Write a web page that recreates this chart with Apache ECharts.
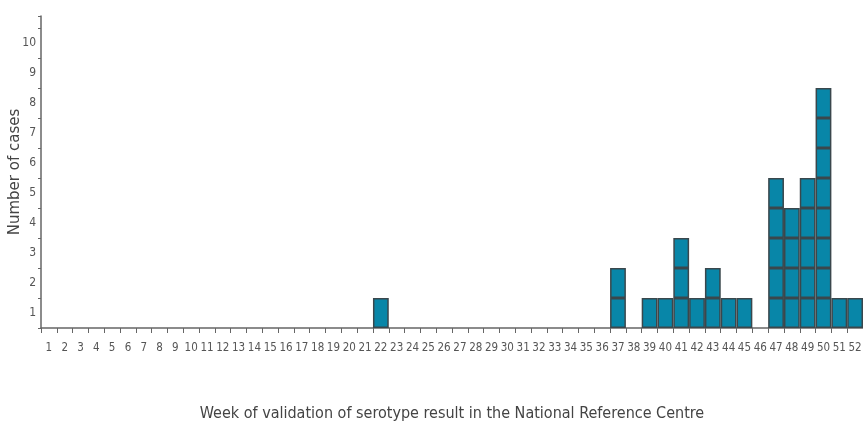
<!DOCTYPE html>
<html>
<head>
<meta charset="utf-8">
<script src="https://cdn.jsdelivr.net/npm/echarts@6/dist/echarts.min.js"></script>
<style>html,body{margin:0;padding:0;background:#fff}#c{width:863px;height:429px}</style>
</head>
<body>
<div id="c"></div>
<script>
const weeks = Array.from({length: 52}, (_, i) => String(i + 1));
const cases = [0,0,0,0,0,0,0,0,0,0, 0,0,0,0,0,0,0,0,0,0, 0,1,0,0,0,0,0,0,0,0, 0,0,0,0,0,0,2,0,1,1, 3,1,2,1,1,0,5,4,5,8, 1,1];
const yLabels = ['1','2','3','4','5','6','7','8','9','10'];

const maxCount = Math.max(...cases);
const series = [];
for (let k = 1; k <= maxCount; k++) {
  series.push({
    type: 'bar',
    stack: 'cases',
    barCategoryGap: 0,
    data: cases.map(c => c >= k ? 1 : '-'),
    itemStyle: { color: '#0886a8', borderColor: '#3a474c', borderWidth: 1.5 },
    emphasis: { disabled: true },
    animation: false
  });
}

const chart = echarts.init(document.getElementById('c'), null, {renderer: 'canvas'});
chart.setOption({
  animation: false,
  grid: { left: 41, right: 0, top: 16, bottom: 101, containLabel: false, outerBoundsMode: 'none' },
  xAxis: {
    type: 'category',
    data: weeks,
    boundaryGap: true,
    name: 'Week of validation of serotype result in the National Reference Centre',
    nameLocation: 'middle',
    nameGap: 78,
    nameMoveOverlap: false,
    nameTextStyle: { fontFamily: 'DejaVu Sans Condensed, sans-serif', fontSize: 16, color: '#444' },
    axisLine: { lineStyle: { color: '#666', width: 1.5 } },
    axisTick: { show: true, alignWithLabel: false, length: 5, lineStyle: { color: '#666' } },
    axisLabel: { interval: 0, fontFamily: 'DejaVu Sans Condensed, sans-serif', fontSize: 11.5, color: '#555', margin: 14 }
  },
  yAxis: {
    type: 'value',
    min: 0,
    max: 10.4,
    interval: 1,
    name: 'Number of cases',
    nameLocation: 'middle',
    nameGap: 18,
    nameMoveOverlap: false,
    nameRotate: 90,
    nameTextStyle: { fontFamily: 'DejaVu Sans, Verdana, sans-serif', fontSize: 15, color: '#444', align: 'center' },
    splitLine: { show: false },
    axisLine: { show: true, lineStyle: { color: '#666', width: 1.5 } },
    axisTick: { show: true, length: 3, lineStyle: { color: '#666' } },
    axisLabel: {
      fontFamily: 'DejaVu Sans Condensed, sans-serif',
      fontSize: 12,
      color: '#555',
      margin: 5,
      verticalAlign: 'top',
      lineHeight: 30,
      formatter: v => (Number.isInteger(v) && v >= 1 && v <= yLabels.length) ? yLabels[v - 1] : ''
    }
  },
  series: series
});
</script>
</body>
</html>
